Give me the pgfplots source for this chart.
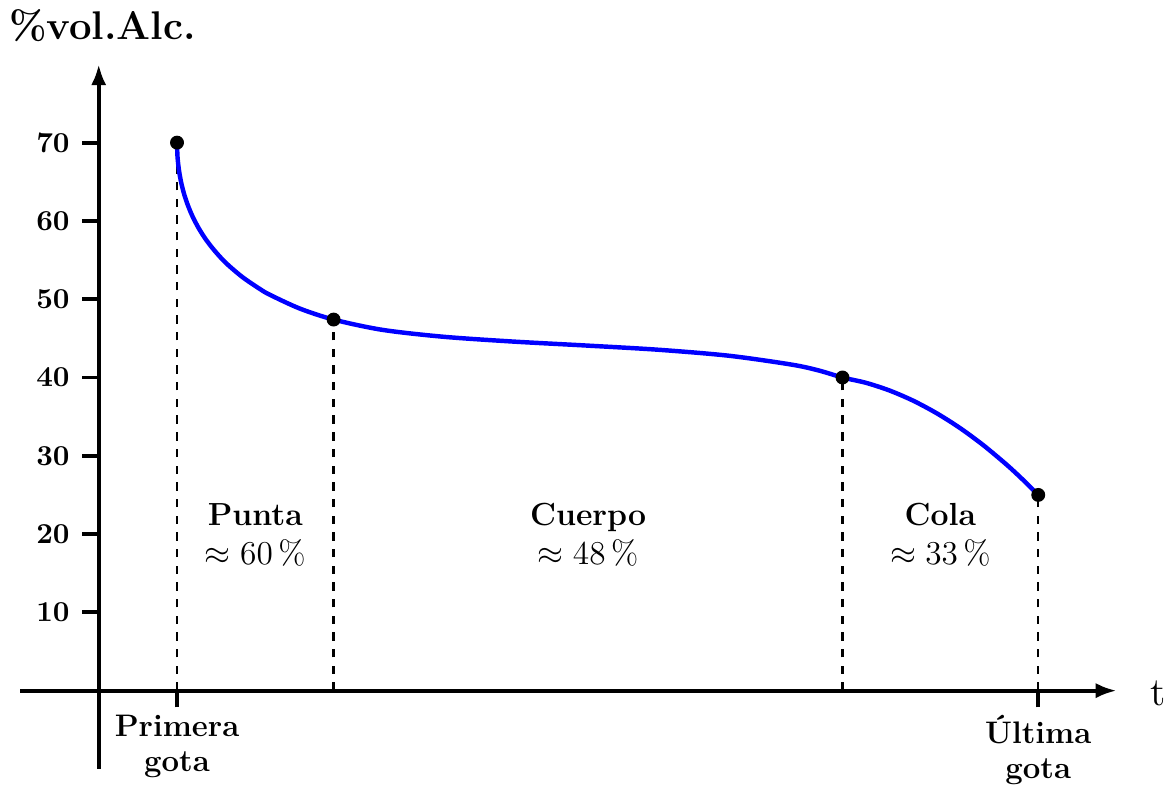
\documentclass[border=0pt]{standalone}
\usepackage{pgfplots}
\pgfplotsset{compat=1.18}
\usetikzlibrary{arrows.meta}
\begin{document}
\begin{tikzpicture}
\begin{axis}[
  x=0.99mm, y=0.99mm,
  axis lines=middle,
  xmin=-10, xmax=130, ymin=-10, ymax=80,
  axis line style={line width=1.4pt, -{Latex[length=7.5pt,width=5.5pt]}},
  xtick={10,120},
  xticklabels={{Primera\\gota},{Última\\gota}},
  xticklabel style={align=center, font=\fontsize{11.2}{12.6}\selectfont\bfseries, inner sep=0pt, yshift=-2.75pt},
  ytick={10,20,30,40,50,60,70},
  yticklabels={\textbf{10},\textbf{20},\textbf{30},\textbf{40},\textbf{50},\textbf{60},\textbf{70}},
  yticklabel style={xshift=-1pt, font=\fontsize{10.4}{12}\selectfont},
  tick style={line width=1.4pt, black},
  major tick length=2.1mm,
  tick align=outside,
  clip=false,
]
\addplot[black, dashed, line width=0.8pt] coordinates {(10,0) (10,70)};
\addplot[black, dashed, line width=0.8pt] coordinates {(30,0) (30,47.4)};
\addplot[black, dashed, line width=0.8pt] coordinates {(95,0) (95,40)};
\addplot[black, dashed, line width=0.8pt] coordinates {(120,0) (120,25)};
\addplot[blue, line width=1.6pt, smooth, tension=0.5] coordinates {
  (10,70) (10.06,68.23) (10.24,66.54) (10.53,64.91) (10.93,63.35) (11.44,61.86)
  (12.05,60.43) (12.77,59.07) (13.58,57.78) (14.50,56.56) (15.5,55.40)
  (16.59,54.31) (18.40,52.79) (20.39,51.43) (21.81,50.59) (25.70,48.80) (30,47.4)
  (36.2,46.09) (43.95,45.21) (52.76,44.60) (62.13,44.09) (71.53,43.54)
  (80.48,42.78) (88.48,41.65) (91.95,40.90) (95,40)
  (98,39.32) (101,38.34) (104,37.05) (107,35.45) (110,33.55) (113,31.34)
  (116,28.83) (118,26.98) (120,25)
};
\addplot[only marks, mark=*, mark size=2.3pt, black] coordinates {(10,70) (30,47.4) (95,40) (120,25)};
\node[anchor=base, font=\fontsize{14.4}{16}\selectfont\bfseries] at (axis cs:0.5,83.2) {\%vol.Alc.};
\node[anchor=base west, inner sep=0pt, font=\Large] at (axis cs:134.3,-1.9) {t};
\node[anchor=base, font=\fontsize{11.5}{13}\selectfont\bfseries] at (axis cs:20,21.1) {Punta};
\node[anchor=base, font=\fontsize{11.5}{13}\selectfont] at (axis cs:20,16.1) {$\approx 60\,\%$};
\node[anchor=base, font=\fontsize{11.5}{13}\selectfont\bfseries] at (axis cs:62.5,21.1) {Cuerpo};
\node[anchor=base, font=\fontsize{11.5}{13}\selectfont] at (axis cs:62.5,16.1) {$\approx 48\,\%$};
\node[anchor=base, font=\fontsize{11.5}{13}\selectfont\bfseries] at (axis cs:107.5,21.1) {Cola};
\node[anchor=base, font=\fontsize{11.5}{13}\selectfont] at (axis cs:107.5,16.1) {$\approx 33\,\%$};
\end{axis}
\end{tikzpicture}
\end{document}
